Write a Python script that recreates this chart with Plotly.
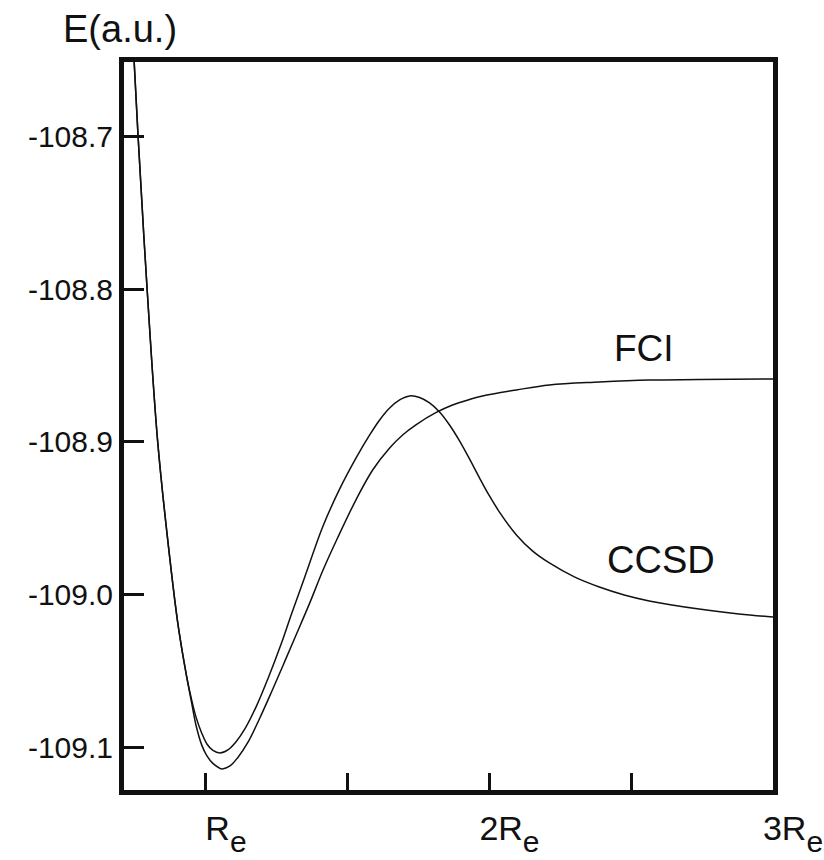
import plotly.graph_objects as go

# R / Re values and energies (a.u.)
fci_r = [0.7465, 0.7606, 0.7923, 0.8299, 0.8732, 0.9025, 0.9320, 0.9496, 0.9648, 0.9849,
         1.0035, 1.0246, 1.0563, 1.0845, 1.1127, 1.1489, 1.1901, 1.2313, 1.2711, 1.3134,
         1.3662, 1.4130, 1.4658, 1.5306, 1.5880, 1.6479, 1.6937, 1.7419, 1.8123, 1.8697,
         1.9296, 1.9754, 2.0951, 2.2113, 2.3873, 2.5634, 2.7394, 3.0]
fci_e = [-108.6503, -108.7, -108.7993, -108.9, -108.9771, -109.0207, -109.0534, -109.0706, -109.0850, -109.0980,
         -109.1052, -109.1101, -109.1137, -109.1118, -109.1062, -109.0961, -109.0804, -109.0634, -109.0464, -109.0281,
         -109.0052, -108.9837, -108.9621, -108.9373, -108.9183, -108.9039, -108.8954, -108.8886, -108.8807, -108.8758,
         -108.8722, -108.8699, -108.8660, -108.8627, -108.8608, -108.8595, -108.8592, -108.8588]

ccsd_r = [0.7465, 0.7606, 0.7923, 0.8299, 0.8732, 0.9025, 0.9320, 0.9496, 0.9648, 0.9849,
          1.0035, 1.0246, 1.0493, 1.0775, 1.1056, 1.1373, 1.1785, 1.2183, 1.2665, 1.3018,
          1.3486, 1.4130, 1.4718, 1.5306, 1.5775, 1.6127, 1.6479, 1.6831, 1.7183,
          1.7535, 1.7887, 1.8239, 1.8592, 1.8944, 1.9296, 1.9648, 2.0, 2.0352, 2.0951,
          2.1514, 2.2113, 2.2993, 2.3873, 2.4754, 2.5634, 2.7394, 2.8803, 3.0]
ccsd_e = [-108.6503, -108.7, -108.7993, -108.9, -108.9771, -109.0207, -109.0534, -109.0686, -109.0797, -109.0902,
          -109.0974, -109.1016, -109.1033, -109.1013, -109.0961, -109.0876, -109.0725, -109.0549, -109.0314, -109.0124,
          -108.9882, -108.9549, -108.9307, -108.9101, -108.8954, -108.8856, -108.8778, -108.8725, -108.8699,
          -108.8709, -108.8745, -108.8804, -108.8889, -108.8993, -108.9111, -108.9235, -108.9353, -108.9458, -108.9608,
          -108.9712, -108.9791, -108.9882, -108.9948, -109.0, -109.0039, -109.0092, -109.0124, -109.0144]

x_tickvals = [1, 2, 3]
x_ticktext = ["R<sub><sub><span style='font-size:30px'>e</span></sub></sub>",
              "2R<sub><sub><span style='font-size:30px'>e</span></sub></sub>",
              "3R<sub><sub><span style='font-size:30px'>e</span></sub></sub>"]
x_minorvals = [1.5, 2.5]
y_tickvals = [-108.7, -108.8, -108.9, -109.0, -109.1]
y_ticktext = ["-108.7", "-108.8", "-108.9", "-109.0", "-109.1"]

FONT = "Liberation Sans, Arial, sans-serif"
INK = "#111111"

fig = go.Figure()
fig.add_trace(go.Scatter(x=fci_r, y=fci_e, mode="lines", name="FCI",
                         line=dict(color=INK, width=1.5, shape="spline", smoothing=1.0)))
fig.add_trace(go.Scatter(x=ccsd_r, y=ccsd_e, mode="lines", name="CCSD",
                         line=dict(color=INK, width=1.5, shape="spline", smoothing=1.0)))

fig.update_layout(
    width=824, height=860,
    margin=dict(l=124, r=51, t=62, b=70, autoexpand=False),
    paper_bgcolor="white", plot_bgcolor="white",
    showlegend=False,
    font=dict(family=FONT, color=INK),
)
fig.update_xaxes(range=[0.711, 3.0], showgrid=False, zeroline=False, automargin=False,
                 showline=True, mirror=True, linecolor=INK, linewidth=5,
                 ticks="inside", ticklen=17, tickwidth=3, tickcolor=INK,
                 tickvals=x_tickvals, ticktext=x_ticktext, ticklabelshift=20,
                 ticklabelstandoff=4,
                 minor=dict(tickvals=x_minorvals, ticks="inside", ticklen=17,
                            tickwidth=3, tickcolor=INK, showgrid=False),
                 tickfont=dict(family=FONT, size=34, color=INK))
fig.update_yaxes(range=[-109.1275, -108.6516], showgrid=False, zeroline=False, automargin=False,
                 showline=True, mirror=True, linecolor=INK, linewidth=5,
                 ticks="inside", ticklen=20, tickwidth=3, tickcolor=INK,
                 tickvals=y_tickvals, ticktext=y_ticktext,
                 tickfont=dict(family=FONT, size=30, color=INK))

fig.add_annotation(text="E(a.u.)", xref="paper", yref="paper", x=-0.097, y=1.0,
                   xanchor="left", yanchor="bottom", yshift=10, showarrow=False,
                   font=dict(family=FONT, size=38, color=INK))
fig.add_annotation(text="FCI", x=2.546, y=-108.839, xref="x", yref="y", showarrow=False,
                   font=dict(family=FONT, size=37, color=INK))
fig.add_annotation(text="CCSD", x=2.606, y=-108.977, xref="x", yref="y", showarrow=False,
                   font=dict(family=FONT, size=38, color=INK))

fig.write_html("out.html")
